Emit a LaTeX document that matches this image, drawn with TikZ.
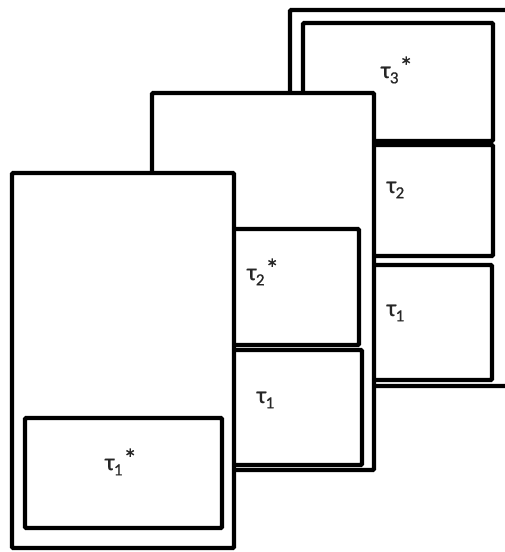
\documentclass[tikz,border=0pt]{standalone}
\usepackage{fontspec}
\setmainfont{Carlito}
\newfontfamily\lblfont{Carlito}[FakeBold=0.6]
\newcommand{\tl}[2]{τ\kern-0.5pt\raisebox{-0.22em}{\fontsize{17}{17}\selectfont #1}\kern1pt\raisebox{0.1em}{\fontsize{27}{27}\selectfont #2}}
\begin{document}
\begin{tikzpicture}[x=1pt,y=-1pt,
  frame/.style={draw=black,line width=4.2pt,fill=white,rounded corners=1pt},
  lbl/.style={font=\lblfont\fontsize{24}{26}\selectfont,inner sep=0pt,text=black!85}]
\useasboundingbox (0,0) rectangle (505,552);
% back stack
\draw[frame] (290,10) rectangle (520,386);
\draw[frame] (303,23) rectangle (493,141);
\draw[frame] (303,145) rectangle (493,256);
\draw[frame] (303,265) rectangle (492,380);
\node[lbl] (t3s) at (397,70) {\tl{3}{*}};
\node[lbl] (t2c) at (396,190) {\tl{2}{}};
\node[lbl] (t1c) at (396,313) {\tl{1}{}};
% middle stack
\draw[frame] (152,93) rectangle (374,470);
\draw[frame] (165,229) rectangle (359,345);
\draw[frame] (165,350) rectangle (362,465);
\node[lbl] (t2s) at (263,272) {\tl{2}{*}};
\node[lbl] (t1b) at (266,400) {\tl{1}{}};
% front stack
\draw[frame] (12,173) rectangle (234,548);
\draw[frame] (25,418) rectangle (222,528);
\node[lbl] (t1s) at (121,462) {\tl{1}{*}};
\end{tikzpicture}
\end{document}
